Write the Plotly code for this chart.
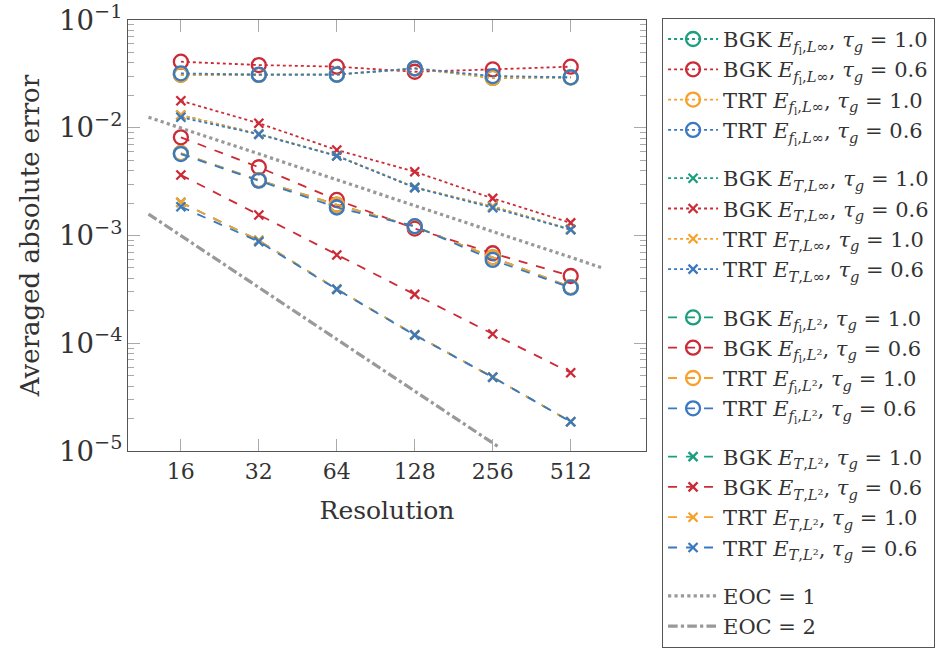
import plotly.graph_objects as go

res = [16, 32, 64, 128, 256, 512]

# E_{f_l, L-inf}
fl_linf_bgk10 = [0.0310, 0.0309, 0.0311, 0.0355, 0.0290, 0.0293]
fl_linf_bgk06 = [0.0410, 0.0382, 0.0369, 0.0331, 0.0348, 0.0369]
fl_linf_trt10 = [0.0310, 0.0309, 0.0311, 0.0355, 0.0290, 0.0293]
fl_linf_trt06 = [0.0320, 0.0311, 0.0311, 0.0356, 0.0302, 0.0294]

# E_{T, L-inf}
t_linf_bgk10 = [0.0131, 0.00875, 0.00550, 0.00280, 0.00186, 0.00114]
t_linf_bgk06 = [0.0178, 0.0110, 0.00622, 0.00391, 0.00221, 0.00131]
t_linf_trt10 = [0.0131, 0.00875, 0.00550, 0.00280, 0.00186, 0.00114]
t_linf_trt06 = [0.0125, 0.00869, 0.00547, 0.00278, 0.00181, 0.00113]

# E_{f_l, L2}
fl_l2_bgk10 = [0.00580, 0.00326, 0.00193, 0.00121, 0.000627, 0.000332]
fl_l2_bgk06 = [0.00815, 0.00430, 0.00214, 0.00116, 0.000684, 0.000421]
fl_l2_trt10 = [0.00580, 0.00326, 0.00193, 0.00121, 0.000627, 0.000332]
fl_l2_trt06 = [0.00570, 0.00323, 0.00182, 0.00122, 0.000593, 0.000328]

# E_{T, L2}
t_l2_bgk10 = [0.00203, 0.000900, 0.000318, 0.000120, 4.85e-5, 1.87e-5]
t_l2_bgk06 = [0.00364, 0.00155, 0.000659, 0.000284, 0.000122, 5.33e-5]
t_l2_trt10 = [0.00203, 0.000900, 0.000318, 0.000120, 4.85e-5, 1.87e-5]
t_l2_trt06 = [0.00185, 0.000877, 0.000316, 0.000119, 4.83e-5, 1.87e-5]

eoc1_x = [12, 680]
eoc1_y = [0.0125, 0.00050]
eoc2_x = [12, 270]
eoc2_y = [0.00158, 1.09e-5]

tick_vals = [16, 32, 64, 128, 256, 512]
tick_text = ["16", "32", "64", "128", "256", "512"]

GREEN = "#1b9e7f"
RED = "#cc2a36"
ORANGE = "#f7a12b"
BLUE = "#3a78c0"
GRAY = "#999999"
FONT = "DejaVu Serif"

SUB_FL_LINF = "<i>f</i><sub>l</sub>,<i>L</i>∞"
SUB_T_LINF = "<i>T</i>,<i>L</i>∞"
SUB_FL_L2 = "<i>f</i><sub>l</sub>,<i>L</i>²"
SUB_T_L2 = "<i>T</i>,<i>L</i>²"


def lbl(scheme, sub, tau):
    return f"{scheme} <i>E</i><sub>{sub}</sub>, <i>τ</i><sub><i>g</i></sub> = {tau}"


fig = go.Figure()

groups = [
    ("g1", SUB_FL_LINF, "dot", "circle-open", 14,
     [fl_linf_bgk10, fl_linf_bgk06, fl_linf_trt10, fl_linf_trt06]),
    ("g2", SUB_T_LINF, "dot", "x-thin-open", 9,
     [t_linf_bgk10, t_linf_bgk06, t_linf_trt10, t_linf_trt06]),
    ("g3", SUB_FL_L2, "dash", "circle-open", 14,
     [fl_l2_bgk10, fl_l2_bgk06, fl_l2_trt10, fl_l2_trt06]),
    ("g4", SUB_T_L2, "dash", "x-thin-open", 9,
     [t_l2_bgk10, t_l2_bgk06, t_l2_trt10, t_l2_trt06]),
]
meta = [("BGK", "1.0", GREEN), ("BGK", "0.6", RED), ("TRT", "1.0", ORANGE), ("TRT", "0.6", BLUE)]

for gname, sub, dash, sym, msize, series in groups:
    for (scheme, tau, col), ys in zip(meta, series):
        fig.add_trace(go.Scatter(
            x=res, y=ys, mode="lines+markers",
            name=lbl(scheme, sub, tau), legendgroup=gname,
            line=dict(color=col, width=1.8, dash=dash),
            marker=dict(symbol=sym, size=msize, color=col,
                        line=dict(color=col, width=2.3)),
        ))

fig.add_trace(go.Scatter(
    x=eoc1_x, y=eoc1_y, mode="lines", name="EOC = 1", legendgroup="g5",
    line=dict(color=GRAY, width=3.2, dash="dot"),
))
fig.add_trace(go.Scatter(
    x=eoc2_x, y=eoc2_y, mode="lines", name="EOC = 2", legendgroup="g5",
    line=dict(color=GRAY, width=3.2, dash="dashdot"),
))

fig.update_layout(
    width=936, height=648,
    margin=dict(l=128, r=290, t=20, b=197, autoexpand=False),
    paper_bgcolor="white", plot_bgcolor="white",
    font=dict(family=FONT, size=22, color="#333333"),
    showlegend=True,
    legend=dict(
        x=1.031, y=1.005, xanchor="left", yanchor="top",
        traceorder="grouped", tracegroupgap=18,
        bordercolor="#555555", borderwidth=1, bgcolor="white",
        font=dict(family=FONT, size=21, color="#333333"),
        itemwidth=50, maxheight=1000,
    ),
    xaxis=dict(
        type="log", range=[1.0, 3.0],
        tickvals=tick_vals, ticktext=tick_text,
        ticks="inside", ticklen=12, tickcolor="#aaaaaa", tickwidth=1,
        showline=True, linecolor="#555555", linewidth=1.2, mirror="ticks",
        showgrid=False, zeroline=False,
        title=dict(text="Resolution", font=dict(size=25), standoff=18),
        tickfont=dict(size=22),
    ),
    yaxis=dict(
        type="log", range=[-5, -1], dtick=1, exponentformat="power",
        ticks="inside", ticklen=12, tickcolor="#aaaaaa", tickwidth=1,
        minor=dict(ticks="inside", ticklen=6, tickcolor="#aaaaaa", dtick="D1", showgrid=False),
        showline=True, linecolor="#555555", linewidth=1.2, mirror="ticks",
        showgrid=False, zeroline=False,
        title=dict(text="Averaged absolute error", font=dict(size=26), standoff=12),
        tickfont=dict(size=22),
    ),
)

fig.write_html("out.html")
